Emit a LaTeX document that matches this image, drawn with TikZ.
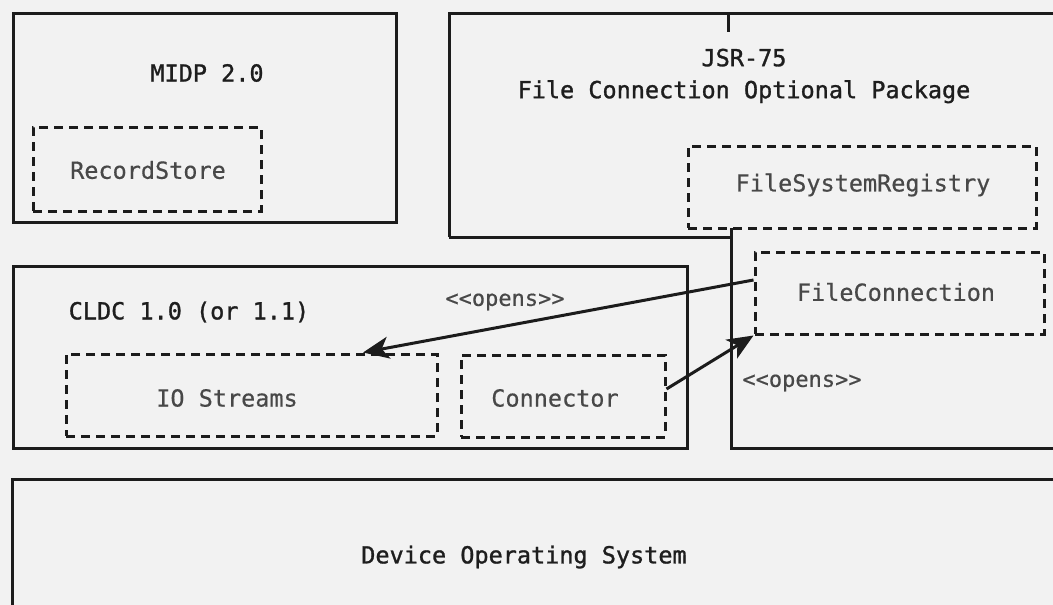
\documentclass[tikz,border=0pt]{standalone}
\usepackage{fontspec}
\newfontfamily\mono{DejaVu Sans Mono}
\newfontfamily\monoheavy[FakeBold=1.2]{DejaVu Sans Mono}
\newfontfamily\monomid[FakeBold=0.5]{DejaVu Sans Mono}
\usetikzlibrary{arrows.meta}
\definecolor{linec}{HTML}{1C1C1C}
\definecolor{titlec}{HTML}{1E1E1E}
\definecolor{partc}{HTML}{484848}
\definecolor{bgc}{HTML}{F2F2F2}
\tikzset{
  solidbox/.style={draw=linec, line width=3pt},
  dashbox/.style={draw=linec, line width=3pt, dash pattern=on 9pt off 6pt, inner sep=0pt},
  title/.style={font=\monoheavy\fontsize{23.5}{32}\selectfont, text=titlec, inner sep=0pt, align=center},
  part/.style={font=\monomid\fontsize{23.5}{32}\selectfont, text=partc, inner sep=0pt},
  note/.style={font=\monomid\fontsize{22}{28}\selectfont, text=partc, inner sep=0pt},
  opens/.style={draw=linec, line width=3pt, -{Stealth[length=26pt, width=22pt, inset=7pt]}}
}
\begin{document}
\begin{tikzpicture}[x=1pt, y=-1pt]
  \useasboundingbox (0,0) rectangle (1053,605);
  \fill[bgc] (0,0) rectangle (1053,605);
  \clip (0,0) rectangle (1053,605);

  % MIDP 2.0 profile
  \draw[solidbox] (13,13) rectangle (396,222);
  \node[title] (midp) at (207,73) {MIDP 2.0};
  \node[dashbox, minimum width=228pt, minimum height=84pt] (rs) at (147,169) {};
  \node[part] (rslbl) at (148,170) {RecordStore};

  % JSR-75 optional package (outline reaches down beside CLDC)
  \draw[solidbox] (449,237) -- (449,13) -- (1062,13) -- (1062,448) -- (731,448) -- (731,228);
  \draw[solidbox] (449,237) -- (731,237);
  \draw[solidbox] (728,13) -- (728,32);
  \node[title] (jsr) at (744,76) {JSR-75\\File Connection Optional Package};
  \node[dashbox, minimum width=348pt, minimum height=82pt] (fsr) at (862,187) {};
  \node[part] (fsrlbl) at (863,185) {FileSystemRegistry};
  \node[dashbox, minimum width=289pt, minimum height=82pt] (fc) at (899.5,293) {};
  \node[part] (fclbl) at (896,292) {FileConnection};

  % CLDC configuration
  \draw[solidbox] (13,266) rectangle (687,448);
  \node[title] (cldc) at (189,312) {CLDC 1.0 (or 1.1)};
  \node[dashbox, minimum width=371pt, minimum height=82pt] (io) at (251.5,395) {};
  \node[part] (iolbl) at (227,398) {IO Streams};
  \node[dashbox, minimum width=204pt, minimum height=82pt] (conn) at (563,396) {};
  \node[part] (connlbl) at (555,398) {Connector};

  % Device operating system
  \draw[solidbox] (12,479) rectangle (1062,640);
  \node[title] (os) at (524,557) {Device Operating System};

  % "opens" relations
  \draw[opens] ([yshift=13pt]fc.west) -- ([xshift=111.5pt]io.north);
  \node[note] (op1) at (505,302) {<<opens>>};
  \draw[opens] ([yshift=7pt]conn.east) -- (fc.south west);
  \node[note] (op2) at (802,383) {<<opens>>};
\end{tikzpicture}
\end{document}
